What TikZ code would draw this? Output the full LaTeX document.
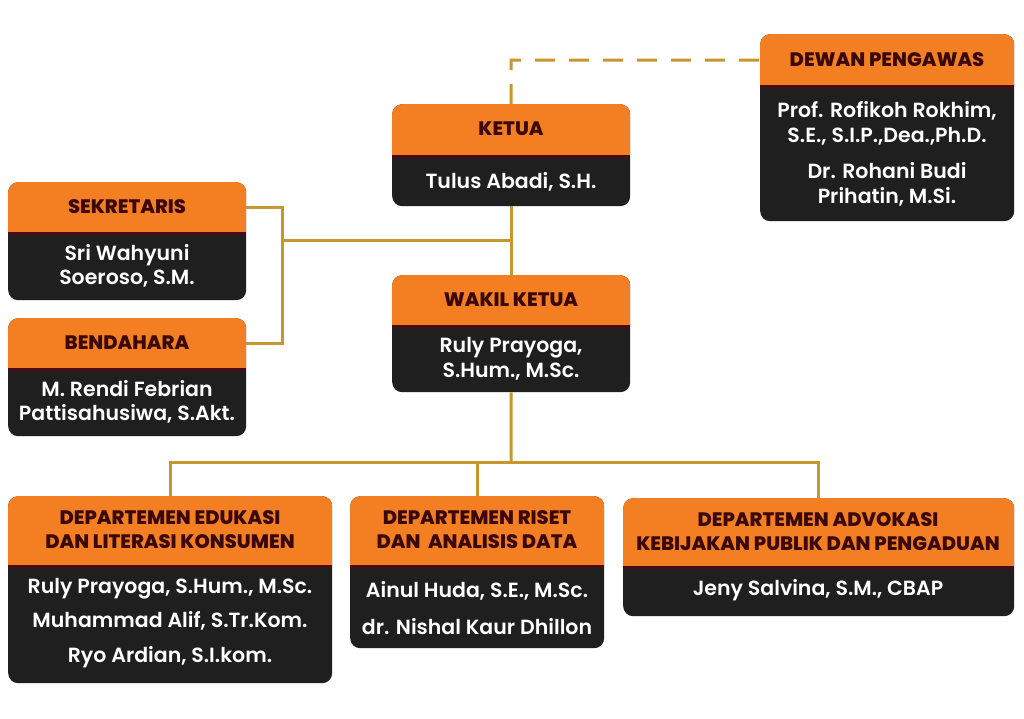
\documentclass[tikz,border=0pt]{standalone}
\usepackage{fontspec}
\setmainfont{Poppins}
\IfFontExistsTF{Poppins SemiBold}{\newfontfamily\namefont{Poppins SemiBold}}{\newfontfamily\namefont{Poppins}}
\IfFontExistsTF{Poppins ExtraBold}{\newfontfamily\headfont{Poppins ExtraBold}}{\newfontfamily\headfont{Poppins Bold}}
\usetikzlibrary{positioning}
\definecolor{boxorange}{HTML}{F47F22}
\definecolor{boxblack}{HTML}{1F1F1F}
\definecolor{boxstripe}{HTML}{4A0C14}
\definecolor{headred}{HTML}{3A0808}
\definecolor{linegold}{HTML}{C8962E}
\begin{document}
\begin{tikzpicture}[x=1pt, y=-1pt,
  orgbox/.style={fill=boxblack, rounded corners=10pt, anchor=north west, inner sep=0pt,
    path picture={
      \fill[boxorange, sharp corners] ([yshift=2pt]path picture bounding box.north west) rectangle ([yshift=-#1]path picture bounding box.north east);
      \fill[boxstripe, sharp corners] ([yshift=-#1]path picture bounding box.north west) rectangle ([yshift=-#1-3pt]path picture bounding box.north east);}},
  headtxt/.style={font=\headfont\fontsize{19.5}{24}\selectfont, text=headred, align=center},
  nametxt/.style={font=\namefont\fontsize{20.5}{24.5}\selectfont, text=white, align=center},
  link/.style={draw=linegold, line width=3pt},
]
  \path[use as bounding box, fill=white] (0,0) rectangle (1024,718);

  % boxes
  \node[orgbox=51pt, minimum width=238pt, minimum height=102pt] (ketua) at (392,104) {};
  \node[orgbox=51pt, minimum width=254pt, minimum height=187pt] (dewan) at (760,34) {};
  \node[orgbox=50pt, minimum width=238pt, minimum height=118pt] (sekretaris) at (8,182) {};
  \node[orgbox=50pt, minimum width=238pt, minimum height=118pt] (bendahara) at (8,318) {};
  \node[orgbox=50pt, minimum width=238pt, minimum height=117pt] (wakil) at (392,275) {};
  \node[orgbox=69pt, minimum width=324pt, minimum height=187pt] (edukasi) at (8,496) {};
  \node[orgbox=69pt, minimum width=254pt, minimum height=152pt] (riset) at (350,496) {};
  \node[orgbox=68pt, minimum width=391pt, minimum height=118pt] (advokasi) at (623,498) {};

  % titles
  \node[headtxt] (ketuahead) at (511,129) {KETUA};
  \node[headtxt] (dewanhead) at (887,60) {DEWAN PENGAWAS};
  \node[headtxt] (sekretarishead) at (127,207) {SEKRETARIS};
  \node[headtxt] (bendaharahead) at (127,343) {BENDAHARA};
  \node[headtxt] (wakilhead) at (511,300) {WAKIL KETUA};
  \node[headtxt] (edukasihead) at (170,530) {DEPARTEMEN EDUKASI\\DAN LITERASI KONSUMEN};
  \node[headtxt] (risethead) at (477,530) {DEPARTEMEN RISET\\DAN\ \ ANALISIS DATA};
  \node[headtxt] (advokasihead) at (818,532) {DEPARTEMEN ADVOKASI\\KEBIJAKAN PUBLIK DAN PENGADUAN};

  % names
  \node[nametxt] (ketuaname) at (511,182) {Tulus Abadi, S.H.};
  \node[nametxt] (dewanname) at (887,154) {Prof. Rofikoh Rokhim,\\S.E., S.I.P.,Dea.,Ph.D.\\[12pt]Dr. Rohani Budi\\Prihatin, M.Si.};
  \node[nametxt] (sekretarisname) at (127,266) {Sri Wahyuni\\Soeroso, S.M.};
  \node[nametxt] (bendaharaname) at (127,402) {M. Rendi Febrian\\Pattisahusiwa, S.Akt.};
  \node[nametxt] (wakilname) at (511,359) {Ruly Prayoga,\\S.Hum., M.Sc.};
  \node[nametxt] (edukasiname) at (170,623) {Ruly Prayoga, S.Hum., M.Sc.\\[10pt]Muhammad Alif, S.Tr.Kom.\\[10pt]Ryo Ardian, S.I.kom.};
  \node[nametxt] (risetname) at (477,608) {Ainul Huda, S.E., M.Sc.\\[12pt]dr. Nishal Kaur Dhillon};
  \node[nametxt] (advokasiname) at (818,590) {Jeny Salvina, S.M., CBAP};

  % connectors
  \coordinate (sbjoint) at (282,240);
  \coordinate (deptbus) at (511,462);
  \coordinate (dashcorner) at (511,60);
  \draw[link] (ketua.south) -- (wakil.north);
  \draw[link] (sekretaris.east |- sekretarishead) -| (sbjoint) |- (bendahara.east |- bendaharahead);
  \draw[link] (sbjoint) -- (sbjoint -| ketua.south);
  \draw[link] (wakil.south) -- (deptbus);
  \draw[link] (edukasi.north) -- (edukasi.north |- deptbus) -| (advokasi.north);
  \draw[link] (riset.north) -- (riset.north |- deptbus);
  \draw[link, dash pattern=on 20pt off 14pt] (ketua.north) -- (dashcorner) -- (dashcorner -| dewan.west);
\end{tikzpicture}
\end{document}
